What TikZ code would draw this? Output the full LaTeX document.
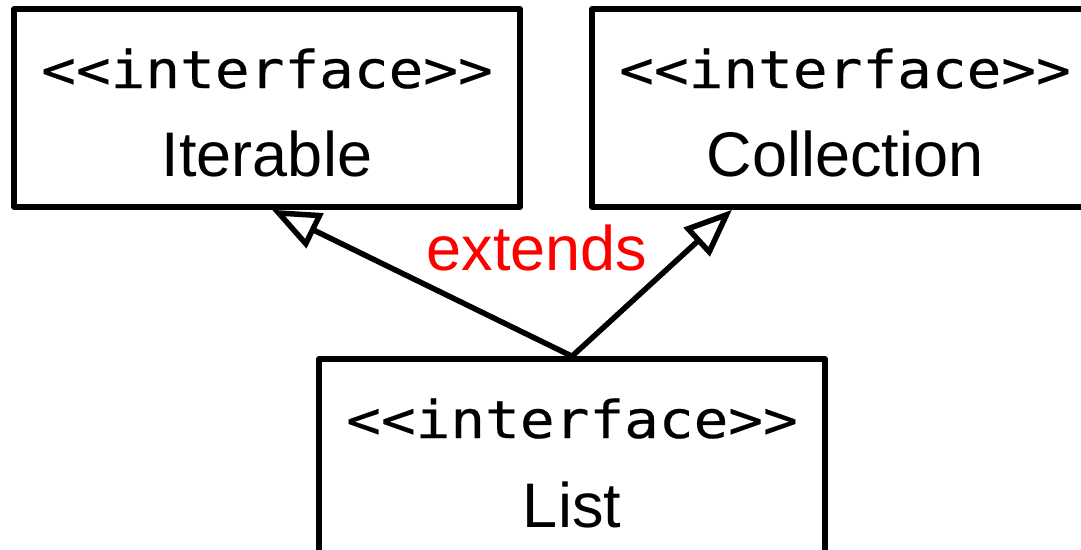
\documentclass[tikz,border=0pt]{standalone}
\usepackage{fontspec}
\setmainfont{Liberation Sans}
\newfontfamily\monof[FakeStretch=1.11,FakeBold=0.4]{DejaVu Sans Mono}
\usetikzlibrary{arrows.meta,calc}

\tikzset{
  ifacebox/.style={draw, line width=5.5pt, line join=round, rectangle,
    minimum width=506pt, minimum height=198pt, inner sep=0pt},
  stereo/.style={anchor=base, inner sep=0pt,
    font=\monof\fontsize{52}{60}\selectfont},
  ifname/.style={anchor=base, inner sep=0pt,
    font=\fontsize{63}{70}\selectfont},
  extendsarrow/.style={line width=5.5pt,
    -{Triangle[open, length=48pt, width=38pt]}},
  relabel/.style={anchor=base, inner sep=0pt, text=red,
    font=\fontsize{63}{70}\selectfont}
}

\begin{document}
\begin{tikzpicture}[x=1pt, y=-1pt]
  \useasboundingbox (0,0) rectangle (1081,549);
  \clip (0,0) rectangle (1081,549);

  % interface boxes
  \node[ifacebox] (iter) at (267,108) {};
  \node[ifacebox] (coll) at (845,108) {};
  \node[ifacebox] (list) at (572,458) {};

  % box texts
  \node[stereo] (iterS) at (267,88) {<<interface>>};
  \node[ifname] (iterN) at (267,176) {Iterable};
  \node[stereo] (collS) at (845,88) {<<interface>>};
  \node[ifname] (collN) at (845,176) {Collection};
  \node[stereo] (listS) at (572,438) {<<interface>>};
  \node[ifname] (listN) at (572,527) {List};

  % generalisation arrows
  \coordinate (iterEnd) at ($(iter.south)+(5,0)$);
  \coordinate (collEnd) at ($(coll.south)+(-113,0)$);
  \draw[extendsarrow] (list.north) -- (iterEnd);
  \draw[extendsarrow] (list.north) -- (collEnd);

  \node[relabel] (ext) at (537,270) {extends};
\end{tikzpicture}
\end{document}
